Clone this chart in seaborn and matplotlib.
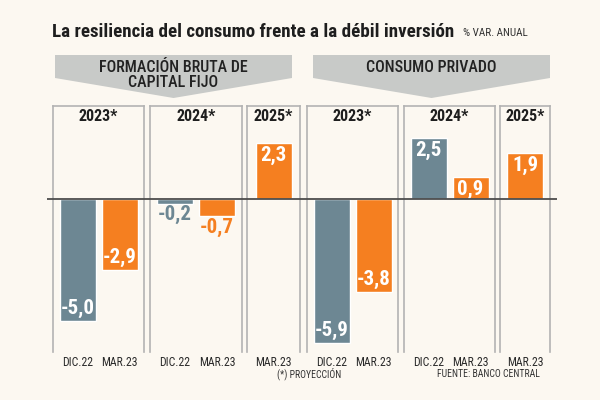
import matplotlib
matplotlib.use('Agg')
import matplotlib.pyplot as plt
import seaborn as sns
from matplotlib import font_manager
from matplotlib.patches import Polygon


# DATA (% var. anual)

title = 'La resiliencia del consumo frente a la débil inversión'
subtitle = '% VAR. ANUAL'
panels = ['FORMACIÓN BRUTA DE\nCAPITAL FIJO', 'CONSUMO PRIVADO']
years = ['2023*', '2024*', '2025*']

periods = ['DIC.22', 'MAR.23']
periods_2025 = ['MAR.23']

fbcf_2023 = [-5.0, -2.9]
fbcf_2024 = [-0.2, -0.7]
fbcf_2025 = [2.3]

consumo_2023 = [-5.9, -3.8]
consumo_2024 = [2.5, 0.9]
consumo_2025 = [1.9]

note = '(*) PROYECCIÓN'
source = 'FUENTE: BANCO CENTRAL'


# STYLE

BG = '#fcf8f1'
BANNER = '#c8cac8'
BORDER = '#b3b3b3'
TEXT = '#1e1e1e'
palette = {'DIC.22': '#6d8793', 'MAR.23': '#f57f20'}

sns.set_theme(style='white')

available = {f.name for f in font_manager.fontManager.ttflist}
NARROW = next(
    (n for n in ['Roboto Condensed', 'Liberation Sans Narrow',
                 'Open Sans Condensed', 'DejaVu Sans'] if n in available),
    'DejaVu Sans'
)
plt.rcParams['font.family'] = [NARROW, 'DejaVu Sans']
plt.rcParams['font.stretch'] = 'condensed'


# LAYOUT HELPERS (pixel -> figure fraction)

W, H = 600, 400


def fx(x):
    return x / W


def fy(y):
    return 1 - y / H


PX_PER_UNIT = 24.4
ZERO_Y = 199
TOP_Y, BOT_Y = 106, 352
SLOT = 42
ymax = (ZERO_Y - TOP_Y) / PX_PER_UNIT
ymin = -(BOT_Y - ZERO_Y) / PX_PER_UNIT

boxes = [(53, 144), (150, 242), (247, 300),
         (307, 398), (404, 495), (500, 550)]

series = [
    (periods, fbcf_2023), (periods, fbcf_2024), (periods_2025, fbcf_2025),
    (periods, consumo_2023), (periods, consumo_2024), (periods_2025, consumo_2025),
]


fig = plt.figure(figsize=(6, 4), dpi=100, facecolor=BG)

# title
fig.text(fx(52), fy(37), title, fontsize=13.7, fontweight='bold',
         color=TEXT, va='baseline', ha='left')
fig.text(fx(463), fy(36), subtitle, fontsize=8, color='#333333',
         va='baseline', ha='left')

# banners
banner_shapes = [(55, 292), (313, 550)]

for (l, r), label in zip(banner_shapes, panels):

    mid = (l + r) / 2

    pts = [(l, 55), (r, 55), (r, 78), (mid, 98), (l, 78)]

    fig.add_artist(
        Polygon(
            [(fx(x), fy(y)) for x, y in pts],
            closed=True,
            transform=fig.transFigure,
            facecolor=BANNER,
            edgecolor='none'
        )
    )

    fig.text(fx(mid), fy(75 if '\n' in label else 67), label,
             fontsize=11.5, fontweight='medium', color='#222222',
             ha='center', va='center', linespacing=1.05)


# year boxes with bars

for (l, r), year, (labels, vals) in zip(boxes, years * 2, series):

    ax = fig.add_axes([fx(l), fy(BOT_Y), (r - l) / W, (BOT_Y - TOP_Y) / H])
    ax.set_facecolor(BG)

    sns.barplot(
        x=labels,
        y=vals,
        hue=labels,
        palette=palette,
        width=36 / SLOT,
        saturation=1,
        legend=False,
        ax=ax
    )

    center = (len(labels) - 1) / 2
    half = (r - l) / SLOT / 2
    ax.set_xlim(center - half, center + half)
    ax.set_ylim(ymin, ymax)

    ax.set_yticks([])
    ax.set_xlabel('')
    ax.set_ylabel('')
    ax.tick_params(axis='x', length=0, pad=3, labelsize=8.5,
                   labelcolor='#2b2b2b')

    for side in ['top', 'left', 'right']:
        ax.spines[side].set_visible(True)
        ax.spines[side].set_color(BORDER)
        ax.spines[side].set_linewidth(1.2)
    ax.spines['bottom'].set_visible(False)

    ax.annotate(year, xy=(0.5, 1), xycoords='axes fraction',
                xytext=(0, -2), textcoords='offset points',
                ha='center', va='top', fontsize=11.5,
                fontweight='bold', color=TEXT)

    for p in ax.patches:

        v = p.get_height()
        xc = p.get_x() + p.get_width() / 2
        txt = f'{v:.1f}'.replace('.', ',')

        if v >= 0:
            ax.annotate(txt, xy=(xc, v), xytext=(0, -2),
                        textcoords='offset points', ha='center', va='top',
                        fontsize=15, fontweight='bold', color='white')
        elif v > -1:
            ax.annotate(txt, xy=(xc, v), xytext=(0, -1),
                        textcoords='offset points', ha='center', va='top',
                        fontsize=15, fontweight='bold',
                        color=p.get_facecolor())
        else:
            ax.annotate(txt, xy=(xc, v), xytext=(0, 2),
                        textcoords='offset points', ha='center',
                        va='bottom', fontsize=15, fontweight='bold',
                        color='white')


# zero line across all boxes

ax0 = fig.add_axes([fx(47), fy(BOT_Y), (557 - 47) / W, (BOT_Y - TOP_Y) / H])
ax0.set_ylim(ymin, ymax)
ax0.axhline(0, color='#4d4d4d', linewidth=1.3)
ax0.axis('off')
ax0.patch.set_alpha(0)

# footnotes
fig.text(fx(309), fy(374), note, fontsize=7, color='#333333',
         ha='center', va='center')
fig.text(fx(488), fy(374), source, fontsize=7, color='#333333',
         ha='center', va='center')

fig.savefig('out.png', dpi=100, facecolor=BG)
